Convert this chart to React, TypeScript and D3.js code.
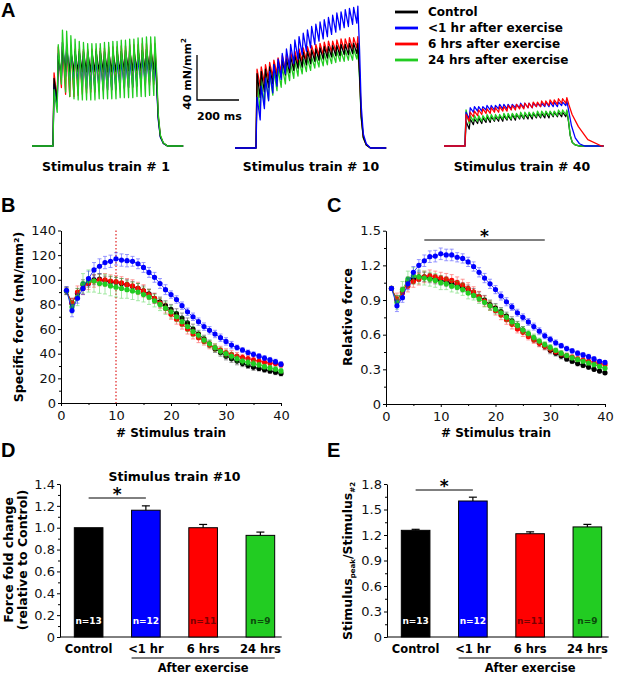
import React, { useEffect, useRef } from 'react';
import * as d3 from 'd3';

// ---- shared labels / colours ----
const conditions = ['Control', '<1 hr after exercise', '6 hrs after exercise', '24 hrs after exercise'];
const barCategories = ['Control', '<1 hr', '6 hrs', '24 hrs'];
const seriesColors = ['#000000', '#0000ff', '#ff0000', '#22cc22'];
const nLabelColors = ['#ffffff', '#ffffff', '#7a0000', '#0b4a0b'];
const sampleSizes = ['n=13', 'n=12', 'n=11', 'n=9'];
const trainTitles = ['Stimulus train # 1', 'Stimulus train # 10', 'Stimulus train # 40'];

// ---- panel A: force traces (mN/mm², peak and trough of each of 25 pulses at 50 Hz) ----
const pulseTimes = d3.range(0, 500, 20);
const train1Peak = [
  [60, 80, 88, 86, 85, 84, 84, 84, 84, 84, 84, 84, 84, 84, 84, 84, 84, 85, 85, 85, 85, 85, 86, 86, 86],
  [55, 82, 92, 90, 86, 84, 82, 80, 79, 78, 78, 77, 77, 77, 77, 77, 77, 77, 77, 78, 78, 78, 78, 78, 79],
  [65, 88, 92, 90, 88, 86, 86, 86, 86, 86, 86, 87, 87, 88, 88, 88, 89, 89, 90, 90, 90, 91, 91, 91, 91],
  [50, 90, 103, 102, 98, 95, 93, 92, 91, 91, 91, 91, 92, 92, 93, 93, 94, 94, 95, 95, 96, 96, 97, 97, 97],
];
const train1Trough = [
  [40, 62, 66, 66, 66, 66, 66, 66, 66, 66, 66, 66, 66, 66, 66, 66, 67, 67, 67, 67, 67, 67, 68, 68, 68],
  [35, 60, 62, 58, 55, 53, 52, 51, 51, 50, 50, 50, 50, 50, 51, 51, 52, 52, 53, 54, 55, 56, 57, 58, 58],
  [40, 52, 46, 44, 44, 45, 46, 47, 48, 48, 49, 49, 50, 50, 50, 51, 51, 52, 52, 53, 53, 54, 54, 55, 55],
  [30, 55, 48, 44, 42, 41, 41, 41, 41, 41, 42, 42, 42, 42, 42, 43, 43, 43, 43, 44, 44, 44, 45, 45, 45],
];
const train10Peak = [
  [66, 68, 70, 72, 74, 76, 78, 79, 81, 82, 84, 85, 86, 87, 88, 89, 90, 90, 91, 91, 92, 92, 93, 93, 93],
  [45, 55, 62, 68, 74, 79, 84, 88, 92, 96, 99, 102, 105, 108, 110, 112, 114, 116, 118, 120, 121, 123, 124, 125, 126],
  [70, 72, 74, 76, 78, 80, 82, 83, 85, 86, 88, 89, 90, 91, 92, 93, 94, 95, 95, 96, 97, 97, 98, 98, 99],
  [60, 62, 64, 66, 68, 70, 72, 74, 75, 77, 78, 79, 80, 81, 82, 83, 84, 85, 85, 86, 86, 87, 87, 88, 88],
];
const train10Trough = [
  [45, 50, 54, 57, 60, 63, 65, 67, 69, 71, 72, 74, 75, 77, 78, 79, 80, 81, 82, 82, 83, 83, 84, 84, 84],
  [25, 35, 42, 49, 55, 61, 66, 71, 75, 79, 83, 86, 89, 92, 95, 97, 99, 101, 103, 105, 107, 108, 110, 111, 112],
  [55, 58, 61, 63, 66, 68, 70, 72, 74, 75, 77, 78, 80, 81, 82, 83, 84, 85, 86, 86, 87, 88, 88, 89, 89],
  [32, 38, 43, 47, 51, 54, 57, 60, 62, 64, 66, 68, 69, 71, 72, 73, 74, 75, 76, 77, 77, 78, 78, 79, 79],
];
const train40Peak = [
  [22, 24, 24, 25, 25, 26, 26, 26, 27, 27, 27, 28, 28, 28, 28, 29, 29, 29, 29, 30, 30, 30, 30, 30, 31],
  [30, 34, 35, 35, 35, 36, 36, 36, 37, 37, 37, 37, 37, 38, 38, 38, 38, 38, 38, 39, 39, 39, 39, 39, 40],
  [28, 30, 31, 32, 33, 33, 34, 34, 35, 35, 36, 36, 37, 37, 38, 38, 39, 39, 40, 40, 41, 41, 42, 42, 43],
  [32, 27, 27, 27, 27, 28, 28, 28, 28, 29, 29, 29, 29, 30, 30, 30, 30, 31, 31, 31, 31, 31, 32, 32, 32],
];
const train40Trough = [
  [15, 19, 20, 20, 21, 21, 22, 22, 22, 23, 23, 23, 24, 24, 24, 24, 25, 25, 25, 25, 26, 26, 26, 26, 27],
  [24, 30, 31, 31, 32, 32, 32, 33, 33, 33, 33, 34, 34, 34, 34, 34, 35, 35, 35, 35, 35, 35, 36, 36, 36],
  [22, 26, 27, 28, 29, 29, 30, 30, 31, 31, 32, 32, 33, 33, 34, 34, 35, 35, 36, 36, 37, 37, 38, 38, 39],
  [20, 22, 22, 22, 23, 23, 23, 24, 24, 24, 24, 25, 25, 25, 26, 26, 26, 26, 27, 27, 27, 27, 28, 28, 28],
];
// relaxation after the last pulse: [ms after last peak], [fraction of last peak]
const fastTail = [[0, 8, 16, 26, 40, 60], [1, 0.7, 0.3, 0.1, 0.03, 0]];
const midTail = [[0, 10, 22, 40, 60, 85], [1, 0.75, 0.45, 0.18, 0.05, 0]];
const slowTail = [[0, 10, 25, 55, 100, 165], [1, 0.85, 0.65, 0.4, 0.13, 0]];

// ---- panel B: specific force (mN/mm²) per stimulus train 1..40 ----
const trains = d3.range(1, 41);
const forceControl = [91, 81, 89, 96, 98, 100, 100.5, 99, 98.5, 98, 97, 96, 94.5, 93, 91, 88.5, 85, 82, 79, 76, 72.5, 69, 65, 60, 56, 52, 48, 44, 41, 38, 36, 34, 32, 30.5, 29, 28, 27, 26, 25, 24];
const forceLt1h = [91.5, 75, 85, 93, 101, 108, 111, 114, 115, 117, 116, 115.5, 115, 113, 110, 106, 102, 97, 92, 88, 84, 79, 74, 70, 66, 62, 59, 56, 53, 50, 47, 45, 43, 41, 39.5, 38, 36.5, 35, 33.5, 31.5];
const force6h = [91, 81, 90, 93, 97, 99, 100, 100, 99, 98.5, 97.5, 96, 95, 93, 91, 88, 85, 81, 77, 72, 68, 64, 60, 56, 53, 50, 47, 45, 43, 41, 39.5, 38, 37, 36, 35, 34, 33, 32.5, 32, 31];
const force24h = [91, 78, 86, 97, 99, 99, 97, 96.5, 95, 94, 93, 92, 91, 90, 88, 86, 83, 80, 77, 74, 70, 66, 62, 58, 55, 51, 48, 45, 42, 40, 38, 36, 34, 33, 32, 31, 29.5, 28.5, 27.5, 26];
const semForceControl = [3, 4, 4, 4, 4, 4, 4, 4, 4, 4, 4, 4, 4, 4, 4, 4, 4, 4, 4, 4, 4, 4, 4, 4, 3, 3, 3, 3, 3, 3, 3, 3, 2.5, 2.5, 2.5, 2, 2, 2, 2, 2];
const semForceLt1h = [3, 5, 4, 5, 6, 6, 6, 5, 5, 5, 5, 5, 4, 4, 4, 4, 4, 4, 4, 3, 3, 3, 3, 3, 3, 3, 3, 3, 3, 3, 3, 2, 2, 2, 2, 2, 2, 2, 2, 2];
const semForce6h = [3, 4, 5, 5, 5, 5, 5, 5, 5, 5, 5, 5, 5, 5, 5, 4, 4, 4, 4, 4, 4, 4, 4, 4, 4, 3, 3, 3, 3, 3, 3, 3, 2.5, 2.5, 2.5, 2, 2, 2, 2, 2];
const semForce24h = [3, 5, 7, 8, 9, 9, 8, 8, 8, 8, 8, 7, 7, 7, 6, 6, 5, 5, 5, 5, 4, 4, 4, 4, 3, 3, 3, 3, 3, 3, 3, 3, 2.5, 2.5, 2.5, 2, 2, 2, 2, 2];

// ---- panel C: relative force ----
const relControl = [1.0, 0.9, 0.97, 1.06, 1.08, 1.1, 1.1, 1.09, 1.08, 1.07, 1.06, 1.045, 1.03, 1.01, 0.99, 0.96, 0.93, 0.9, 0.86, 0.83, 0.8, 0.76, 0.72, 0.68, 0.64, 0.6, 0.565, 0.53, 0.5, 0.465, 0.44, 0.415, 0.39, 0.37, 0.35, 0.335, 0.32, 0.3, 0.285, 0.27];
const relLt1h = [1.0, 0.85, 0.92, 1.04, 1.14, 1.2, 1.24, 1.275, 1.28, 1.3, 1.29, 1.29, 1.27, 1.26, 1.23, 1.19, 1.14, 1.09, 1.04, 0.99, 0.935, 0.885, 0.84, 0.79, 0.75, 0.71, 0.67, 0.63, 0.59, 0.56, 0.53, 0.505, 0.48, 0.46, 0.44, 0.425, 0.41, 0.39, 0.37, 0.36];
const rel6h = [1.0, 0.91, 0.96, 1.02, 1.06, 1.08, 1.1, 1.11, 1.1, 1.09, 1.08, 1.07, 1.05, 1.03, 1.0, 0.97, 0.93, 0.89, 0.85, 0.81, 0.77, 0.73, 0.69, 0.65, 0.62, 0.585, 0.555, 0.525, 0.5, 0.475, 0.455, 0.435, 0.42, 0.405, 0.39, 0.38, 0.37, 0.36, 0.35, 0.34];
const rel24h = [1.0, 0.88, 0.99, 1.08, 1.11, 1.1, 1.09, 1.08, 1.07, 1.05, 1.04, 1.02, 1.01, 0.99, 0.96, 0.94, 0.91, 0.88, 0.85, 0.82, 0.79, 0.75, 0.71, 0.68, 0.64, 0.61, 0.575, 0.545, 0.515, 0.49, 0.465, 0.44, 0.42, 0.4, 0.385, 0.37, 0.355, 0.34, 0.325, 0.31];
const semRelControl = [0, 0.04, 0.04, 0.04, 0.04, 0.04, 0.04, 0.04, 0.04, 0.04, 0.04, 0.04, 0.04, 0.04, 0.04, 0.04, 0.04, 0.04, 0.04, 0.04, 0.035, 0.035, 0.035, 0.035, 0.03, 0.03, 0.03, 0.03, 0.03, 0.03, 0.025, 0.025, 0.02, 0.02, 0.02, 0.02, 0.02, 0.015, 0.015, 0.015];
const semRelLt1h = [0, 0.05, 0.04, 0.05, 0.05, 0.05, 0.05, 0.05, 0.05, 0.05, 0.05, 0.05, 0.04, 0.04, 0.04, 0.04, 0.04, 0.04, 0.04, 0.035, 0.035, 0.035, 0.03, 0.03, 0.03, 0.03, 0.03, 0.03, 0.025, 0.025, 0.025, 0.02, 0.02, 0.02, 0.02, 0.02, 0.02, 0.02, 0.015, 0.015];
const semRel6h = [0, 0.05, 0.05, 0.05, 0.05, 0.05, 0.05, 0.05, 0.05, 0.05, 0.05, 0.05, 0.05, 0.05, 0.05, 0.045, 0.045, 0.045, 0.04, 0.04, 0.04, 0.04, 0.04, 0.035, 0.035, 0.03, 0.03, 0.03, 0.03, 0.03, 0.025, 0.025, 0.02, 0.02, 0.02, 0.02, 0.02, 0.015, 0.015, 0.015];
const semRel24h = [0, 0.06, 0.07, 0.07, 0.07, 0.06, 0.06, 0.06, 0.06, 0.06, 0.05, 0.05, 0.05, 0.05, 0.05, 0.04, 0.04, 0.04, 0.04, 0.04, 0.035, 0.035, 0.03, 0.03, 0.03, 0.03, 0.03, 0.025, 0.025, 0.025, 0.02, 0.02, 0.02, 0.02, 0.02, 0.015, 0.015, 0.015, 0.015, 0.015];
const sigTrainsC = [7, 29];

// ---- panels D / E: bars ----
const foldChange = [1.0, 1.16, 1.0, 0.93];
const semFoldChange = [0, 0.04, 0.03, 0.03];
const peakRatio = [1.255, 1.6, 1.215, 1.295];
const semPeakRatio = [0.012, 0.045, 0.022, 0.03];

const FONT = '"DejaVu Sans", Verdana, sans-serif';
const LETTER_FONT = '"Liberation Sans", Arial, sans-serif';

type Sel = d3.Selection<any, any, any, any>;

function text(g: Sel, x: number, y: number, str: string, size: number, weight = 'bold', anchor = 'start', fill = '#000') {
  return g.append('text').attr('x', x).attr('y', y).attr('font-family', FONT).attr('font-size', size)
    .attr('font-weight', weight).attr('text-anchor', anchor).attr('fill', fill).text(str);
}

function vText(g: Sel, x: number, y: number, str: string, size: number) {
  return g.append('text').attr('transform', `translate(${x},${y}) rotate(-90)`).attr('font-family', FONT)
    .attr('font-size', size).attr('font-weight', 'bold').attr('text-anchor', 'middle').text(str);
}

function styleAxis(a: Sel, size = 13) {
  a.attr('font-family', FONT).attr('font-size', size);
  a.select('.domain').attr('stroke', '#000');
  a.selectAll('.tick line').attr('stroke', '#000');
  a.selectAll('.tick text').attr('fill', '#111');
}

const fmt = (v: d3.NumberValue) => (+v === 0 ? '0' : d3.format('.1f')(+v));

function tracePoints(peak: number[], trough: number[], tail: number[][], end: number) {
  const pts: [number, number][] = [[-100, 0], [0, 0]];
  pulseTimes.forEach((t, i) => {
    pts.push([t + 5, peak[i]]);
    if (i < pulseTimes.length - 1) pts.push([t + 20, trough[i]]);
  });
  const lastT = pulseTimes[pulseTimes.length - 1] + 5;
  const lastV = peak[peak.length - 1];
  tail[0].forEach((ms, j) => pts.push([lastT + ms, lastV * tail[1][j]]));
  pts.push([end, 0]);
  return pts;
}

function drawSeriesPanel(svg: Sel, x: d3.ScaleLinear<number, number>, y: d3.ScaleLinear<number, number>,
  series: number[][], errs: number[][], order: number[], yTicks: number[], yMinor: number[], yFmt: (v: d3.NumberValue) => string) {
  // axes
  const ya = svg.append('g').attr('transform', `translate(${x.range()[0]},0)`)
    .call(d3.axisLeft(y).tickValues(yTicks).tickSize(3).tickSizeOuter(0).tickPadding(2).tickFormat(yFmt));
  styleAxis(ya);
  svg.append('g').attr('transform', `translate(${x.range()[0]},0)`)
    .call(d3.axisLeft(y).tickValues(yMinor).tickSize(2).tickFormat(() => ''))
    .call(s => s.select('.domain').remove()).selectAll('line').attr('stroke', '#000');
  const xa = svg.append('g').attr('transform', `translate(0,${y.range()[0]})`)
    .call(d3.axisBottom(x).tickValues([0, 10, 20, 30, 40]).tickSize(3).tickSizeOuter(0).tickPadding(5).tickFormat(d3.format('d')));
  styleAxis(xa);
  svg.append('g').attr('transform', `translate(0,${y.range()[0]})`)
    .call(d3.axisBottom(x).tickValues([5, 15, 25, 35]).tickSize(2).tickFormat(() => ''))
    .call(s => s.select('.domain').remove()).selectAll('line').attr('stroke', '#000');

  order.forEach(ci => {
    const vals = series[ci];
    const err = errs[ci];
    const col = seriesColors[ci];
    const g = svg.append('g');
    const eb = g.append('g').attr('stroke', col).attr('stroke-width', 0.8).attr('opacity', 0.5);
    eb.selectAll('line.v').data(vals).join('line').attr('class', 'v')
      .attr('x1', (_, i) => x(trains[i])).attr('x2', (_, i) => x(trains[i]))
      .attr('y1', (d, i) => y(d - err[i])).attr('y2', (d, i) => y(d + err[i]));
    ['lo', 'hi'].forEach((cls, k) => {
      const sg = k === 0 ? -1 : 1;
      eb.selectAll(`line.${cls}`).data(vals).join('line').attr('class', cls)
        .attr('x1', (_, i) => x(trains[i]) - 2).attr('x2', (_, i) => x(trains[i]) + 2)
        .attr('y1', (d, i) => y(d + sg * err[i])).attr('y2', (d, i) => y(d + sg * err[i]));
    });
    const line = d3.line<number>().x((_, i) => x(trains[i])).y(d => y(d));
    g.append('path').attr('d', line(vals)).attr('fill', 'none').attr('stroke', col).attr('stroke-width', 0.8);
    g.selectAll('circle').data(vals).join('circle')
      .attr('cx', (_, i) => x(trains[i])).attr('cy', d => y(d)).attr('r', 2.6).attr('fill', col);
  });
}

function drawBars(svg: Sel, x: d3.ScaleBand<string>, y: d3.ScaleLinear<number, number>, vals: number[], errs: number[],
  yTicks: number[], yMinor: number[]) {
  const ya = svg.append('g').attr('transform', `translate(${x.range()[0]},0)`)
    .call(d3.axisLeft(y).tickValues(yTicks).tickSize(3).tickSizeOuter(0).tickPadding(2).tickFormat(fmt));
  styleAxis(ya);
  svg.append('g').attr('transform', `translate(${x.range()[0]},0)`)
    .call(d3.axisLeft(y).tickValues(yMinor).tickSize(2).tickFormat(() => ''))
    .call(s => s.select('.domain').remove()).selectAll('line').attr('stroke', '#000');
  const bw = x.bandwidth();
  const lastRight = (x(barCategories[barCategories.length - 1]) as number) + bw;
  svg.append('line').attr('x1', x.range()[0]).attr('x2', lastRight + 7)
    .attr('y1', y(0)).attr('y2', y(0)).attr('stroke', '#000');

  svg.append('g').selectAll('rect').data(vals).join('rect')
    .attr('x', (_, i) => x(barCategories[i]) as number).attr('width', bw)
    .attr('y', d => y(d)).attr('height', d => y(0) - y(d))
    .attr('fill', (_, i) => seriesColors[i]).attr('stroke', '#000').attr('stroke-width', 1);

  vals.forEach((v, i) => {
    const cx = (x(barCategories[i]) as number) + bw / 2;
    if (errs[i] > 0) {
      svg.append('line').attr('x1', cx).attr('x2', cx).attr('y1', y(v)).attr('y2', y(v + errs[i])).attr('stroke', '#000').attr('stroke-width', 1.2);
      svg.append('line').attr('x1', cx - 4).attr('x2', cx + 4).attr('y1', y(v + errs[i])).attr('y2', y(v + errs[i])).attr('stroke', '#000').attr('stroke-width', 1.2);
    }
    text(svg, cx, 624, sampleSizes[i], 9, 'bold', 'middle', nLabelColors[i]);
    text(svg, cx, 653, barCategories[i], 11.5, 'bold', 'middle');
  });
  const c0 = (x(barCategories[0]) as number) + bw / 2;
  const c1 = (x(barCategories[1]) as number) + bw / 2;
  // "After exercise" underline
  const left1 = x(barCategories[1]) as number;
  svg.append('line').attr('x1', left1).attr('x2', lastRight).attr('y1', 658).attr('y2', 658).attr('stroke', '#000');
  text(svg, (left1 + lastRight) / 2, 671.5, 'After exercise', 11.5, 'bold', 'middle');
  return [c0, c1];
}

export default function App() {
  const ref = useRef<SVGSVGElement>(null);

  useEffect(() => {
    const svg = d3.select(ref.current) as Sel;
    svg.selectAll('*').remove();
    svg.append('rect').attr('width', 617).attr('height', 675).attr('fill', '#fff');

    // panel letters
    [['A', 1, 17], ['B', 1, 212], ['C', 327, 212], ['D', 1, 457], ['E', 327, 457]].forEach(([l, x, y]) => {
      svg.append('text').attr('x', x as number).attr('y', y as number).attr('font-family', LETTER_FONT)
        .attr('font-size', 20).attr('font-weight', 'bold').text(l as string);
    });

    // ---------- Panel A ----------
    const traceStarts = [32, 235, 444];
    const traceEnds = [620, 620, 660];
    const traceBase = [146, 148, 146];
    const titleX = [106, 311, 522];
    const peaks = [train1Peak, train10Peak, train40Peak];
    const troughs = [train1Trough, train10Trough, train40Trough];
    const tails = [
      [fastTail, fastTail, fastTail, fastTail],
      [fastTail, fastTail, fastTail, fastTail],
      [fastTail, midTail, slowTail, fastTail],
    ];
    const drawOrders = [[2, 1, 0, 3], [3, 2, 0, 1], [0, 3, 1, 2]];
    const pxPerMs = 0.21;
    const pxPerMN = 45 / 40;
    peaks.forEach((pk, k) => {
      const xT = d3.scaleLinear().domain([-100, traceEnds[k]]).range([traceStarts[k], traceStarts[k] + pxPerMs * (traceEnds[k] + 100)]);
      const yT = d3.scaleLinear().domain([0, 40]).range([traceBase[k], traceBase[k] - 40 * pxPerMN]);
      const line = d3.line<[number, number]>().x(d => xT(d[0])).y(d => yT(d[1]));
      drawOrders[k].forEach(ci => {
        svg.append('path').attr('d', line(tracePoints(pk[ci], troughs[k][ci], tails[k][ci], traceEnds[k])))
          .attr('fill', 'none').attr('stroke', seriesColors[ci]).attr('stroke-width', 1.3).attr('stroke-linejoin', 'round');
      });
      text(svg, titleX[k], 171, trainTitles[k], 12.5, 'bold', 'middle');
    });
    // scale bar: 40 mN/mm² by 200 ms
    const sbX = d3.scaleLinear().domain([0, 200]).range([197, 197 + 200 * pxPerMs]);
    const sbY = d3.scaleLinear().domain([0, 40]).range([100, 100 - 40 * pxPerMN]);
    svg.append('path').attr('d', `M${sbX(0)},${sbY(40)}V${sbY(0)}H${sbX(200)}`).attr('fill', 'none').attr('stroke', '#000').attr('stroke-width', 1.3);
    const sbT = vText(svg, 191, 74, '40 mN/mm', 11);
    sbT.append('tspan').attr('font-size', 7).attr('dy', -5).text('2');
    text(svg, 197, 120, '200 ms', 11, 'bold', 'start');
    // legend
    conditions.forEach((c, i) => {
      const ly = 12 + i * 16;
      svg.append('line').attr('x1', 395).attr('x2', 418).attr('y1', ly).attr('y2', ly)
        .attr('stroke', seriesColors[i]).attr('stroke-width', 2.8);
      text(svg, 428, ly + 4.3, c, 12, 'bold');
    });

    // ---------- Panel B ----------
    const xB = d3.scaleLinear().domain([0, 40]).range([61, 281]);
    const yB = d3.scaleLinear().domain([0, 140]).range([403, 230.5]);
    svg.append('line').attr('x1', xB(10)).attr('x2', xB(10)).attr('y1', yB(140)).attr('y2', yB(0))
      .attr('stroke', '#e02020').attr('stroke-width', 1.2).attr('stroke-dasharray', '1.5,2');
    drawSeriesPanel(svg, xB, yB, [forceControl, forceLt1h, force6h, force24h],
      [semForceControl, semForceLt1h, semForce6h, semForce24h], [0, 2, 3, 1],
      d3.range(0, 141, 20), d3.range(10, 140, 20), d3.format('d'));
    vText(svg, 22.5, 317, 'Specific force (mN/mm²)', 12.5);
    text(svg, 171, 437, '# Stimulus train', 12, 'bold', 'middle');

    // ---------- Panel C ----------
    const xC = d3.scaleLinear().domain([0, 40]).range([386, 605]);
    const yC = d3.scaleLinear().domain([0, 1.5]).range([404, 230.7]);
    drawSeriesPanel(svg, xC, yC, [relControl, relLt1h, rel6h, rel24h],
      [semRelControl, semRelLt1h, semRel6h, semRel24h], [0, 2, 3, 1],
      [0, 0.3, 0.6, 0.9, 1.2, 1.5], [0.15, 0.45, 0.75, 1.05, 1.35], fmt);
    svg.append('line').attr('x1', xC(sigTrainsC[0])).attr('x2', xC(sigTrainsC[1])).attr('y1', 240).attr('y2', 240).attr('stroke', '#000');
    text(svg, (xC(sigTrainsC[0]) + xC(sigTrainsC[1])) / 2, 242, '*', 17, 'bold', 'middle');
    vText(svg, 352, 317, 'Relative force', 12.5);
    text(svg, 496, 437, '# Stimulus train', 12, 'bold', 'middle');

    // ---------- Panel D ----------
    const xD = d3.scaleBand<string>().domain(barCategories).range([60, 289]).paddingInner(0.5).paddingOuter(0.25);
    const yD = d3.scaleLinear().domain([0, 1.4]).range([637, 484]);
    const [d0, d1] = drawBars(svg, xD, yD, foldChange, semFoldChange, [0, 0.2, 0.4, 0.6, 0.8, 1.0, 1.2, 1.4], [0.1, 0.3, 0.5, 0.7, 0.9, 1.1, 1.3]);
    svg.append('line').attr('x1', d0).attr('x2', d1).attr('y1', 498).attr('y2', 498).attr('stroke', '#000');
    text(svg, (d0 + d1) / 2, 500, '*', 17, 'bold', 'middle');
    text(svg, 174.5, 480.5, 'Stimulus train #10', 12.5, 'bold', 'middle');
    vText(svg, 13, 560, 'Force fold change', 12.5);
    vText(svg, 27, 560, '(relative to Control)', 12.5);

    // ---------- Panel E ----------
    const xE = d3.scaleBand<string>().domain(barCategories).range([387, 616]).paddingInner(0.5).paddingOuter(0.25);
    const yE = d3.scaleLinear().domain([0, 1.8]).range([637, 484]);
    const [e0, e1] = drawBars(svg, xE, yE, peakRatio, semPeakRatio, [0, 0.3, 0.6, 0.9, 1.2, 1.5, 1.8], [0.15, 0.45, 0.75, 1.05, 1.35, 1.65]);
    svg.append('line').attr('x1', e0).attr('x2', e1).attr('y1', 490).attr('y2', 490).attr('stroke', '#000');
    text(svg, (e0 + e1) / 2, 492, '*', 17, 'bold', 'middle');
    const eLab = svg.append('text').attr('transform', 'translate(352,561) rotate(-90)').attr('font-family', FONT)
      .attr('font-size', 12.5).attr('font-weight', 'bold').attr('text-anchor', 'middle');
    eLab.append('tspan').text('Stimulus');
    eLab.append('tspan').attr('font-size', 7).attr('dy', 3).text('peak');
    eLab.append('tspan').attr('dy', -3).text('/Stimulus');
    eLab.append('tspan').attr('font-size', 7).attr('dy', 3).text('#2');
  }, []);

  return (
    <svg ref={ref} width={617} height={675} style={{ position: 'absolute', left: 0, top: 0 }} />
  );
}
